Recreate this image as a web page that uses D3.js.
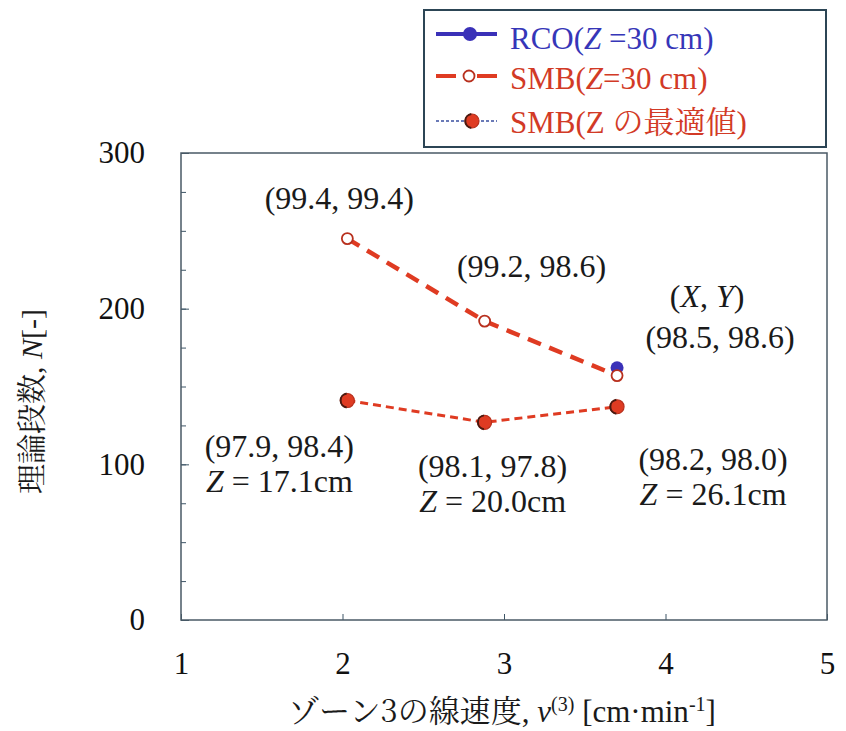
<!DOCTYPE html>
<html>
<head>
<meta charset="utf-8">
<script src="https://cdn.jsdelivr.net/npm/d3@7"></script>
<style>
  body { margin: 0; background: #fff; }
  svg text { font-family: "Liberation Serif", serif; }
  svg .ja { font-family: "Noto Serif CJK JP", serif; }
</style>
</head>
<body>
<div id="chart"></div>
<script>
// data
const velocity = [2.03, 2.88, 3.70];
const smb30 = [245, 192, 157];
const smbOpt = [141, 127, 137];
const rcoVelocity = [3.70];
const rco30 = [162];
const smb30Labels = ["(99.4, 99.4)", "(99.2, 98.6)", "(98.5, 98.6)"];
const smbOptLabels = ["(97.9, 98.4)", "(98.1, 97.8)", "(98.2, 98.0)"];
const smbOptZ = ["17.1cm", "20.0cm", "26.1cm"];
const xTicks = [1, 2, 3, 4, 5];
const yTicks = [0, 100, 200, 300];
const yMinorTicks = d3.range(0, 301, 25);

const width = 846, height = 731;
const margin = { left: 181, right: 19, top: 153, bottom: 111 };
const red = "#df3b22", darkRed = "#b8301e", blue = "#3a31b8";

const svg = d3.select("#chart").append("svg")
  .attr("width", width)
  .attr("height", height);

const x = d3.scaleLinear().domain([1, 5]).range([margin.left, width - margin.right]);
const y = d3.scaleLinear().domain([0, 300]).range([height - margin.bottom, margin.top]);

// axes, ticks point inward
svg.append("g")
  .attr("transform", `translate(${margin.left},0)`)
  .call(d3.axisLeft(y).tickValues(yMinorTicks).tickSize(-5).tickFormat(""))
  .call(g => g.select(".domain").remove())
  .selectAll("line").attr("stroke", "#3d5566");

svg.append("g")
  .attr("class", "yAxis")
  .attr("transform", `translate(${margin.left},0)`)
  .call(d3.axisLeft(y).tickValues(yTicks).tickSize(-8).tickPadding(36))
  .call(g => g.select(".domain").remove());

svg.append("g")
  .attr("class", "xAxis")
  .attr("transform", `translate(0,${y(0)})`)
  .call(d3.axisBottom(x).tickValues(xTicks).tickSize(-6).tickPadding(32).tickFormat(d3.format("d")))
  .call(g => g.select(".domain").remove());

svg.selectAll(".yAxis, .xAxis").attr("font-family", null);
svg.selectAll(".yAxis line, .xAxis line").attr("stroke", "#3d5566");
svg.selectAll(".yAxis text, .xAxis text")
  .attr("font-size", 31)
  .attr("fill", "#111");

// plot frame
svg.append("rect")
  .attr("x", x(1))
  .attr("y", y(300))
  .attr("width", x(5) - x(1))
  .attr("height", y(0) - y(300))
  .attr("fill", "none")
  .attr("stroke", "#4a5a66")
  .attr("stroke-width", 1.5);

const line = d3.line().x(d => x(d[0])).y(d => y(d[1]));

// SMB Z=30 cm
svg.append("path")
  .datum(d3.zip(velocity, smb30))
  .attr("d", line)
  .attr("fill", "none")
  .attr("stroke", red)
  .attr("stroke-width", 4.5)
  .attr("stroke-dasharray", "14,9");

// SMB optimum Z
svg.append("path")
  .datum(d3.zip(velocity, smbOpt))
  .attr("d", line)
  .attr("fill", "none")
  .attr("stroke", red)
  .attr("stroke-width", 3)
  .attr("stroke-dasharray", "8,5");

// RCO marker
svg.append("g")
  .selectAll("circle")
  .data(d3.zip(rcoVelocity, rco30))
  .join("circle")
    .attr("cx", d => x(d[0]))
    .attr("cy", d => y(d[1]))
    .attr("r", 6.5)
    .attr("fill", blue);

svg.append("g")
  .selectAll("circle")
  .data(d3.zip(velocity, smb30))
  .join("circle")
    .attr("cx", d => x(d[0]))
    .attr("cy", d => y(d[1]))
    .attr("r", 5.5)
    .attr("fill", "#fff")
    .attr("stroke", darkRed)
    .attr("stroke-width", 1.8);

const halfMarker = (g, cx, cy, r) => {
  g.append("circle")
    .attr("cx", cx).attr("cy", cy).attr("r", r)
    .attr("fill", red).attr("stroke", darkRed).attr("stroke-width", 1.2);
  g.append("path")
    .attr("d", `M${cx - r * 0.1},${cy - r * 0.99} A${r},${r} 0 0,0 ${cx - r * 0.1},${cy + r * 0.99}`)
    .attr("fill", "none").attr("stroke", "#4a1a10").attr("stroke-width", 2);
};

const optMarkers = svg.append("g");
d3.zip(velocity, smbOpt).forEach(d => halfMarker(optMarkers, x(d[0]), y(d[1]), 7));

// annotations
const annot = svg.append("g")
  .attr("font-size", 32)
  .attr("fill", "#1a1a1a")
  .attr("text-anchor", "middle");

const smb30Offsets = [[-8, -30], [47, -44], [103, -28]];
smb30Labels.forEach((t, i) => {
  annot.append("text")
    .attr("x", x(velocity[i]) + smb30Offsets[i][0])
    .attr("y", y(smb30[i]) + smb30Offsets[i][1])
    .text(t);
});

const xyLabel = annot.append("text")
  .attr("x", x(velocity[2]) + 90)
  .attr("y", y(smb30[2]) - 69);
xyLabel.append("tspan").text("(");
xyLabel.append("tspan").attr("font-style", "italic").text("X");
xyLabel.append("tspan").text(",  ");
xyLabel.append("tspan").attr("font-style", "italic").text("Y");
xyLabel.append("tspan").text(")");

const optOffsets = [[-68, 56], [8, 55], [96, 63]];
smbOptLabels.forEach((t, i) => {
  const cx = x(velocity[i]) + optOffsets[i][0];
  const cy = y(smbOpt[i]) + optOffsets[i][1];
  annot.append("text").attr("x", cx).attr("y", cy).text(t);
  const z = annot.append("text").attr("x", cx).attr("y", cy + 35);
  z.append("tspan").attr("font-style", "italic").text("Z");
  z.append("tspan").text(" = " + smbOptZ[i]);
});

// axis titles
const xTitle = svg.append("text")
  .attr("x", (x(1) + x(5)) / 2 - 2)
  .attr("y", 722)
  .attr("text-anchor", "middle")
  .attr("font-size", 31)
  .attr("fill", "#1a1a1a");
xTitle.append("tspan").attr("class", "ja").text("ゾーン3の線速度");
xTitle.append("tspan").text(", ");
xTitle.append("tspan").attr("font-style", "italic").text("v");
xTitle.append("tspan").attr("font-size", 20).attr("dy", -11).text("(3)");
xTitle.append("tspan").attr("dy", 11).text(" [cm·min");
xTitle.append("tspan").attr("font-size", 20).attr("dy", -11).text("-1");
xTitle.append("tspan").attr("dy", 11).text("]");

const yTitle = svg.append("text")
  .attr("transform", `translate(42,${(y(0) + y(300)) / 2 + 15}) rotate(-90)`)
  .attr("text-anchor", "middle")
  .attr("font-size", 30)
  .attr("fill", "#1a1a1a");
yTitle.append("tspan").attr("class", "ja").text("理論段数");
yTitle.append("tspan").text(", ");
yTitle.append("tspan").attr("font-style", "italic").text("N");
yTitle.append("tspan").text("[-]");

// legend
const legend = svg.append("g");
legend.append("rect")
  .attr("x", 424).attr("y", 10)
  .attr("width", 402).attr("height", 137)
  .attr("fill", "#fff")
  .attr("stroke", "#2c4555")
  .attr("stroke-width", 2);

const rows = [34, 76, 121];
// RCO row
legend.append("line")
  .attr("x1", 436).attr("x2", 497).attr("y1", rows[0]).attr("y2", rows[0])
  .attr("stroke", blue).attr("stroke-width", 4);
legend.append("circle").attr("cx", 470).attr("cy", rows[0]).attr("r", 7).attr("fill", blue);
// SMB 30 row
legend.append("line")
  .attr("x1", 436).attr("x2", 456).attr("y1", rows[1]).attr("y2", rows[1])
  .attr("stroke", red).attr("stroke-width", 4);
legend.append("line")
  .attr("x1", 477).attr("x2", 497).attr("y1", rows[1]).attr("y2", rows[1])
  .attr("stroke", red).attr("stroke-width", 4);
legend.append("circle").attr("cx", 469).attr("cy", rows[1]).attr("r", 5.5)
  .attr("fill", "#fff").attr("stroke", darkRed).attr("stroke-width", 1.8);
// SMB optimum row
legend.append("line")
  .attr("x1", 436).attr("x2", 497).attr("y1", rows[2]).attr("y2", rows[2])
  .attr("stroke", "#3a4fa0").attr("stroke-width", 1.5)
  .attr("stroke-dasharray", "3,2");
halfMarker(legend, 472, rows[2], 7);

const legendText = legend.append("g").attr("font-size", 31);
const t1 = legendText.append("text").attr("x", 510).attr("y", rows[0] + 15).attr("fill", "#3636b8");
t1.append("tspan").text("RCO(");
t1.append("tspan").attr("font-style", "italic").text("Z");
t1.append("tspan").text(" =30 cm)");
const t2 = legendText.append("text").attr("x", 510).attr("y", rows[1] + 13).attr("fill", "#d23a26");
t2.append("tspan").text("SMB(");
t2.append("tspan").attr("font-style", "italic").text("Z");
t2.append("tspan").text("=30 cm)");
const t3 = legendText.append("text").attr("x", 510).attr("y", rows[2] + 12).attr("fill", "#d23a26");
t3.append("tspan").text("SMB(Z ");
t3.append("tspan").attr("class", "ja").text("の最適値");
t3.append("tspan").text(")");
</script>
</body>
</html>
